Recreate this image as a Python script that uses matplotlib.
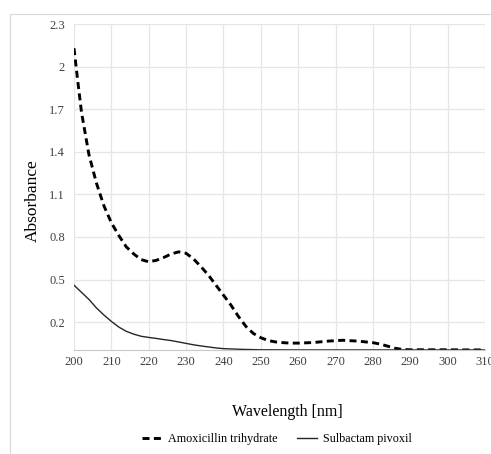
import matplotlib.pyplot as plt
from matplotlib.lines import Line2D

plt.rcParams['font.family'] = ['Liberation Serif', 'DejaVu Serif']

# Amoxicillin trihydrate spectrum
wl_amox = [200, 201, 202, 204, 206, 208, 210, 212, 214, 216, 218, 220, 222, 224, 226,
           228, 230, 232, 234, 236, 238, 240, 242, 244, 246, 248, 250, 252, 254, 256,
           258, 260, 264, 268, 272, 276, 280, 282, 284, 286, 288, 290, 295, 300, 305, 310]
abs_amox = [2.13, 1.90, 1.68, 1.38, 1.18, 1.02, 0.90, 0.81, 0.73, 0.68, 0.64, 0.625, 0.635, 0.655, 0.68,
            0.695, 0.685, 0.645, 0.59, 0.53, 0.46, 0.39, 0.32, 0.24, 0.17, 0.12, 0.09, 0.07, 0.06, 0.055,
            0.052, 0.052, 0.056, 0.066, 0.072, 0.066, 0.055, 0.045, 0.03, 0.015, 0.007, 0.005, 0.005, 0.005, 0.004, 0.004]

# Sulbactam pivoxil spectrum
wl_sulb = [200, 202, 204, 206, 208, 210, 212, 214, 216, 218, 220, 222, 224, 226, 228,
           230, 232, 234, 236, 238, 240, 245, 250, 260, 270, 280, 290, 300, 310]
abs_sulb = [0.46, 0.41, 0.36, 0.30, 0.25, 0.205, 0.165, 0.135, 0.115, 0.10, 0.092, 0.085, 0.077, 0.07, 0.06,
            0.05, 0.04, 0.032, 0.025, 0.018, 0.013, 0.008, 0.005, 0.004, 0.004, 0.004, 0.004, 0.004, 0.004]

x_ticks = [200, 210, 220, 230, 240, 250, 260, 270, 280, 290, 300, 310]
y_ticks = [0.2, 0.5, 0.8, 1.1, 1.4, 1.7, 2.0, 2.3]
y_labels = ['0.2', '0.5', '0.8', '1.1', '1.4', '1.7', '2', '2.3']

fig = plt.figure(figsize=(4.91, 4.54), dpi=100)
ax = fig.add_axes([0.1507, 0.228, 0.8371, 0.719])

ax.plot(wl_amox, abs_amox, color='black', lw=2.1, dashes=(2.4, 1.5), label='Amoxicillin trihydrate')
ax.plot(wl_sulb, abs_sulb, color='#262626', lw=1.0, label='Sulbactam pivoxil')

ax.set_xlim(200, 310)
ax.set_ylim(0, 2.3)
ax.set_xticks(x_ticks)
ax.set_yticks(y_ticks)
ax.set_yticklabels(y_labels)
ax.tick_params(length=0, labelsize=9, colors='#404040', pad=6.5)
ax.tick_params(axis='x', pad=4)
ax.grid(True, color='#e6e6e6', lw=0.9)
ax.set_axisbelow(True)
for s in ['top', 'right', 'left']:
    ax.spines[s].set_visible(False)
ax.spines['bottom'].set_color('#c8c8c8')

ax.set_xlabel('Wavelength [nm]', fontsize=11.5)
ax.set_ylabel('Absorbance', fontsize=12.5)
ax.xaxis.set_label_coords(0.52, -0.164)
ax.yaxis.set_label_coords(-0.08, 0.46)

ax.legend(loc='center', bbox_to_anchor=(0.494, -0.271), ncol=2, frameon=False,
          fontsize=8.7, handlelength=1.65, handletextpad=0.5, columnspacing=1.65)

# outer chart border
fig.add_artist(Line2D([10 / 491, 10 / 491], [0, 1 - 14 / 454], color='#d9d9d9', lw=0.8, transform=fig.transFigure))
fig.add_artist(Line2D([10 / 491, 1], [1 - 14 / 454, 1 - 14 / 454], color='#d9d9d9', lw=0.8, transform=fig.transFigure))

fig.savefig('out.png', dpi=100)
